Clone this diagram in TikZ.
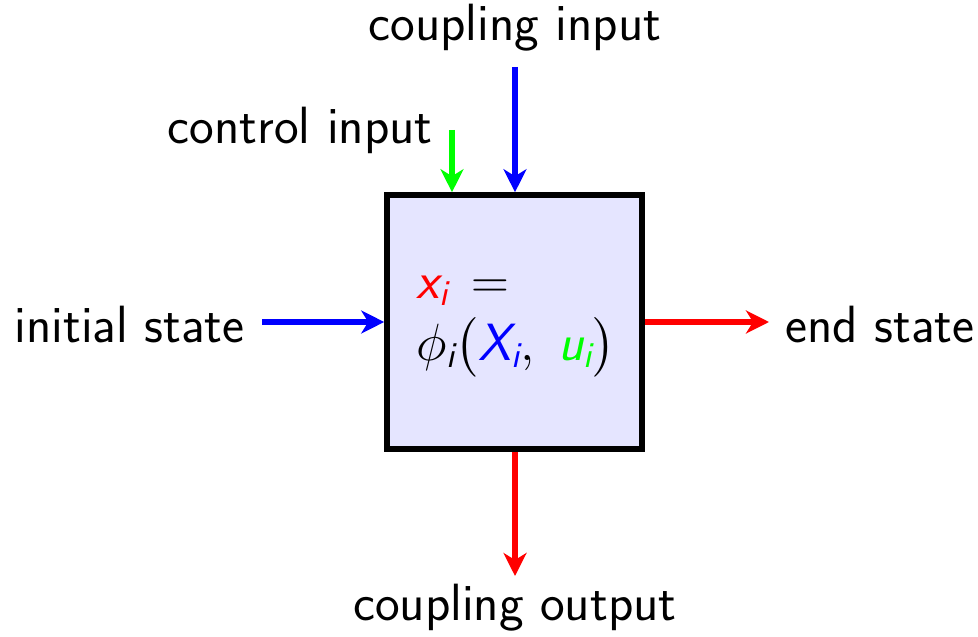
\RequirePackage{fix-cm}
\documentclass[tikz,border=0pt]{standalone}
\usepackage{amsmath}
\usetikzlibrary{arrows.meta}
\renewcommand{\familydefault}{\sfdefault}
\definecolor{boxfill}{RGB}{229,229,255}
\definecolor{pgreen}{RGB}{0,255,0}
\newcommand{\sv}[1]{\textsl{#1}}
\begin{document}
\begin{tikzpicture}[x=0.5pt,y=-0.5pt,
  lbl/.style={inner sep=0pt,font=\fontsize{26.2}{31}\selectfont},
  arr/.style={line width=2.8pt,-{Stealth[length=11.5pt,width=11.5pt,inset=3.5pt]}}]
\useasboundingbox (0,0) rectangle (978,636);
\node[draw=black,line width=2.8pt,fill=boxfill,minimum width=127.5pt,minimum height=127pt,inner sep=0pt] (box) at (514.5,322) {};
\node[lbl,anchor=west,align=left] (eq) at (416,327) {$\color{red}\sv{x}_{\sv{i}}\color{black}\,=$\\[0pt]$\phi_{\sv{i}}\bigl(\color{blue}\sv{X}_{\sv{i}}\color{black},\;\color{pgreen}\sv{u}_{\sv{i}}\color{black}\bigr)$};
\node[lbl] (ci) at (515,28) {coupling input};
\node[lbl,anchor=east] (ctl) at (433,130) {control input};
\node[lbl,anchor=east] (is) at (245,325) {initial state};
\node[lbl,anchor=west] (es) at (785,325) {end state};
\node[lbl] (co) at (515,608) {coupling output};
\coordinate (cit) at (515,67);
\coordinate (ctlt) at (452,130);
\coordinate (ist) at (262,322);
\coordinate (est) at (769,322);
\coordinate (cot) at (515,576);
\draw[arr,blue] (cit) -- (cit |- box.north);
\draw[arr,pgreen] (ctlt) -- (ctlt |- box.north);
\draw[arr,blue] (ist) -- (box.west);
\draw[arr,red] (box.east) -- (est);
\draw[arr,red] (box.south -| cot) -- (cot);
\end{tikzpicture}
\end{document}
